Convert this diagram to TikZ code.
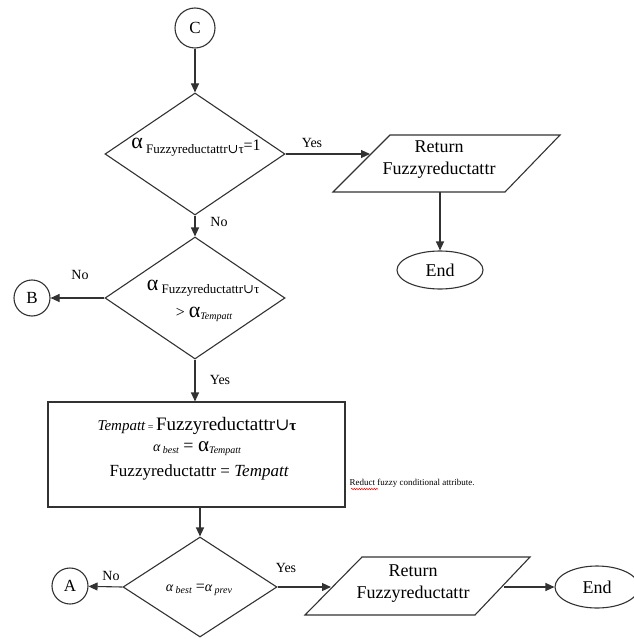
\documentclass[tikz,border=0pt]{standalone}
\usepackage{fontspec}
\setmainfont{Liberation Serif}
\newfontfamily\dejaserif{DejaVu Serif}
\usetikzlibrary{shapes.geometric,arrows.meta,decorations.pathmorphing}
\newcommand{\cupx}{{\dejaserif ∪}}
\newcommand{\fsz}[1]{\fontsize{#1}{#1}\selectfont}
\definecolor{linec}{RGB}{50,50,50}
\begin{document}
\begin{tikzpicture}[x=1pt,y=-1pt,line width=1.1pt,
  conn/.style={draw=linec,-{Triangle[length=9pt,width=8pt]}},
  decision/.style={diamond,draw=linec,inner sep=0pt,minimum width=180pt,minimum height=122pt},
  conncirc/.style={circle,draw=linec,inner sep=0pt,minimum size=38pt,font=\fsz{17}},
  endell/.style={ellipse,draw=linec,inner sep=0pt,minimum width=86pt,minimum height=38pt,font=\fsz{18}},
  lbl/.style={font=\fsz{14},inner sep=0pt},
  txt/.style={inner sep=0pt,align=center},
  iotext/.style={inner sep=0pt,align=center,font=\fontsize{18}{22}\selectfont},
  procbox/.style={rectangle,draw=linec,inner sep=0pt,minimum width=297pt,minimum height=105pt}]
\useasboundingbox (0,0) rectangle (633,639);

% connector C
\node[conncirc,minimum size=40pt] (C) at (195,28) {C};

% decision 1
\node[decision] (d1) at (195,154) {};
\node[txt] (t1) at (196,147) {{\fsz{22}α}{\fsz{13}\raisebox{-5pt}{ Fuzzyreductattr\cupx τ}}{\fsz{16}\raisebox{-2pt}{=1}}};

% parallelogram 1
\coordinate (p1a) at (390,135);
\coordinate (p1b) at (560,135);
\coordinate (p1c) at (505,192);
\coordinate (p1d) at (333,192);
\draw[linec] (p1a) -- (p1b) -- (p1c) -- (p1d) -- cycle;
\coordinate (p1in) at (370,154);
\coordinate (p1out) at (440,192);
\node[iotext] (pt1) at (439,160) {Return\\Fuzzyreductattr};
\node[endell] (E1) at (440,270) {End};

% decision 2
\node[decision] (d2) at (195,298) {};
\node[txt] (t2a) at (203,288) {{\fsz{22}α}{\fsz{13}\raisebox{-3pt}{ Fuzzyreductattr\cupx τ}}};
\node[txt] (t2b) at (204,314) {{\fsz{16}> }{\fsz{22}α}{\fsz{10}\itshape\raisebox{-2pt}{Tempatt}}};
\node[conncirc,minimum size=36pt] (B) at (32,298) {B};

% process box
\node[procbox] (R) at (196.5,454.5) {};
\node[txt] (r1) at (197,426) {{\fsz{15}\itshape Tempatt}{\fsz{10} = }{\fsz{19}Fuzzyreductattr}{\fsz{17}\cupx}{\fsz{15}\bfseries τ}};
\node[txt] (r2) at (197,449) {{\fsz{14}\itshape α}{\fsz{10}\itshape\raisebox{-2pt}{ best}}{\fsz{18} = }{\fsz{21}α}{\fsz{10}\itshape\raisebox{-2pt}{Tempatt}}};
\node[txt] (r3) at (199,472) {{\fsz{17}Fuzzyreductattr = \itshape Tempatt}};
\node[anchor=west,inner sep=0pt,font=\fsz{9}] (note) at (349,483) {Reduct fuzzy conditional attribute.};
\draw[red,line width=0.5pt,decorate,decoration={snake,amplitude=0.7pt,segment length=2.5pt}] (351,489) -- (378,489);

% decision 3
\node[decision,minimum width=154pt,minimum height=100pt] (d3) at (200,587) {};
\node[txt] (t3) at (199,590) {{\fsz{14}\itshape α}{\fsz{10}\itshape\raisebox{-2pt}{ best}}{\fsz{16} =}{\fsz{14}\itshape α}{\fsz{10}\itshape\raisebox{-2pt}{ prev}}};
\node[conncirc,minimum size=36pt] (A) at (70,586) {A};

% parallelogram 2
\coordinate (p2a) at (362,557);
\coordinate (p2b) at (530,557);
\coordinate (p2c) at (475,615);
\coordinate (p2d) at (305,615);
\draw[linec] (p2a) -- (p2b) -- (p2c) -- (p2d) -- cycle;
\coordinate (p2in) at (331,587);
\coordinate (p2out) at (504,587);
\node[iotext] (pt2) at (413,584) {Return\\Fuzzyreductattr};
\node[endell,minimum width=84pt,minimum height=42pt] (E2) at (597,587) {End};

% connectors
\draw[conn] (C) -- (d1.north);
\draw[conn] (d1.east) -- (p1in);
\draw[conn] (p1out) -- (E1.north);
\draw[conn] (d1.south) -- (d2.north);
\draw[conn] (d2.west) -- (B);
\draw[conn] (d2.south) -- (d2.south |- R.north);
\draw[conn] (R.south -| d3.north) -- (d3.north);
\draw[conn] (d3.west) -- (A);
\draw[conn] (d3.east) -- (p2in);
\draw[conn] (p2out) -- (E2.west);

% labels
\node[lbl] (y1) at (312,143) {Yes};
\node[lbl] (n1) at (219,222) {No};
\node[lbl] (n2) at (80,275) {No};
\node[lbl] (y2) at (220,380) {Yes};
\node[lbl] (n3) at (111,576) {No};
\node[lbl] (y3) at (286,568) {Yes};
\end{tikzpicture}
\end{document}
